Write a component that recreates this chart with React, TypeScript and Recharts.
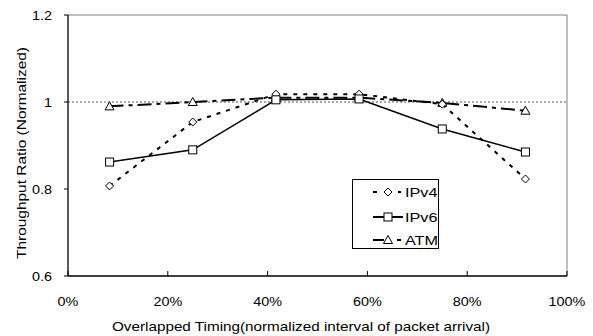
import React from "react";
import {
  LineChart,
  Line,
  XAxis,
  YAxis,
  ReferenceLine,
  Legend,
} from "recharts";

// ---- data ----
const xPositions = [8.33, 25, 41.67, 58.33, 75, 91.67];
const ipv4 = [0.807, 0.954, 1.018, 1.018, 0.995, 0.823];
const ipv6 = [0.862, 0.89, 1.005, 1.007, 0.938, 0.885];
const atm = [0.99, 1.0, 1.01, 1.01, 0.998, 0.98];
const xTicks = [0, 20, 40, 60, 80, 100];
const yTicks = [0.6, 0.8, 1, 1.2];
const seriesNames = ["IPv4", "IPv6", "ATM"];
const xTitle = "Overlapped Timing(normalized interval of packet arrival)";
const yTitle = "Throughput Ratio (Normalized)";

const data = xPositions.map((x, i) => ({
  x,
  IPv4: ipv4[i],
  IPv6: ipv6[i],
  ATM: atm[i],
}));

const FONT = "'Liberation Sans', Arial, sans-serif";

const Diamond = ({ cx, cy }: any) => (
  <path
    d={`M${cx},${cy - 4}L${cx + 4},${cy}L${cx},${cy + 4}L${cx - 4},${cy}Z`}
    fill="#fff"
    stroke="#000"
    strokeWidth={1}
  />
);
const Square = ({ cx, cy }: any) => (
  <rect x={cx - 4} y={cy - 4} width={8} height={8} fill="#fff" stroke="#000" strokeWidth={1} />
);
const Triangle = ({ cx, cy }: any) => (
  <path
    d={`M${cx},${cy - 4.5}L${cx + 4.5},${cy + 3.5}L${cx - 4.5},${cy + 3.5}Z`}
    fill="#fff"
    stroke="#000"
    strokeWidth={1}
  />
);

const XTick = ({ x, y, payload }: any) => (
  <g>
    <line x1={x} x2={x} y1={y} y2={y - 5} stroke="#000" strokeWidth={1} />
    <text
      transform={`translate(${x},${y + 30}) scale(1.2,1)`}
      textAnchor="middle"
      fontSize={12}
      fontFamily={FONT}
      fill="#000"
    >
      {`${payload.value}%`}
    </text>
  </g>
);

const YTick = ({ x, y, payload }: any) => (
  <text
    transform={`translate(${x},${y + 4.5}) scale(1.2,1)`}
    textAnchor="end"
    fontSize={12}
    fontFamily={FONT}
    fill="#000"
  >
    {String(payload.value)}
  </text>
);

const XTitle = () => (
  <text
    x={301}
    y={331}
    textAnchor="middle"
    fontSize={13.5}
    fontFamily={FONT}
    fill="#000"
    textLength={378}
    lengthAdjust="spacingAndGlyphs"
  >
    {xTitle}
  </text>
);

const YTitle = () => (
  <text
    transform="translate(26,153) rotate(-90)"
    x={0}
    y={0}
    textAnchor="middle"
    fontSize={13.5}
    fontFamily={FONT}
    fill="#000"
    textLength={212}
    lengthAdjust="spacingAndGlyphs"
  >
    {yTitle}
  </text>
);

const LegendBox = () => {
  const rows = [13, 38, 61];
  return (
    <svg width={87} height={70} style={{ display: "block" }}>
      <rect x={0.5} y={0.5} width={86} height={69} fill="#fff" stroke="#000" strokeWidth={1} />
      {/* IPv4 */}
      <line x1={21} x2={25} y1={rows[0]} y2={rows[0]} stroke="#000" strokeWidth={2} />
      <line x1={46} x2={49} y1={rows[0]} y2={rows[0]} stroke="#000" strokeWidth={2} />
      <Diamond cx={36} cy={rows[0]} />
      {/* IPv6 */}
      <line x1={21} x2={51} y1={rows[1]} y2={rows[1]} stroke="#000" strokeWidth={2} />
      <Square cx={36} cy={rows[1]} />
      {/* ATM */}
      <line x1={21} x2={32} y1={rows[2]} y2={rows[2]} stroke="#000" strokeWidth={2} />
      <line x1={45} x2={49} y1={rows[2]} y2={rows[2]} stroke="#000" strokeWidth={2} />
      <Triangle cx={36} cy={rows[2]} />
      {seriesNames.map((n, i) => (
        <text
          key={n}
          transform={`translate(53,${rows[i] + 4.5}) scale(1.3,1)`}
          fontSize={12.5}
          fontFamily={FONT}
          fill="#000"
        >
          {n}
        </text>
      ))}
    </svg>
  );
};

export default function App() {
  return (
    <div
      style={{
        position: "absolute",
        left: 0,
        top: 0,
        width: 593,
        height: 336,
        background: "#fff",
      }}
    >
      <LineChart
        width={593}
        height={336}
        data={data}
        margin={{ top: 15, right: 26, bottom: 30, left: 0 }}
      >
        <XAxis
          dataKey="x"
          type="number"
          domain={[0, 100]}
          ticks={xTicks}
          tick={<XTick />}
          tickLine={false}
          tickSize={0}
          tickMargin={0}
          height={30}
          axisLine={{ stroke: "#000", strokeWidth: 1.3 }}
          label={<XTitle />}
          interval={0}
        />
        <YAxis
          type="number"
          domain={[0.6, 1.2]}
          ticks={yTicks}
          tick={<YTick />}
          tickSize={4}
          tickMargin={12}
          width={68}
          axisLine={{ stroke: "#000", strokeWidth: 1.3 }}
          tickLine={{ stroke: "#000" }}
          label={<YTitle />}
          interval={0}
          allowDataOverflow
        />
        <ReferenceLine y={1.2} stroke="#808080" strokeWidth={1} />
        <ReferenceLine x={100} stroke="#808080" strokeWidth={1} />
        <ReferenceLine y={1} stroke="#555" strokeWidth={1} strokeDasharray="2 2" />
        <Legend
          layout="vertical"
          align="center"
          verticalAlign="middle"
          content={<LegendBox />}
          wrapperStyle={{ position: "absolute", left: 352, top: 179, width: 87, height: 70 }}
        />
        <Line
          dataKey="ATM"
          type="linear"
          stroke="#000"
          strokeWidth={2}
          strokeDasharray="14 5 4 5"
          dot={(p: any) => <Triangle key={`t-${p.index}`} cx={p.cx} cy={p.cy} />}
          isAnimationActive={false}
        />
        <Line
          dataKey="IPv4"
          type="linear"
          stroke="#000"
          strokeWidth={2}
          strokeDasharray="4 6"
          dot={(p: any) => <Diamond key={`d-${p.index}`} cx={p.cx} cy={p.cy} />}
          isAnimationActive={false}
        />
        <Line
          dataKey="IPv6"
          type="linear"
          stroke="#000"
          strokeWidth={1.5}
          dot={(p: any) => <Square key={`s-${p.index}`} cx={p.cx} cy={p.cy} />}
          isAnimationActive={false}
        />
      </LineChart>
    </div>
  );
}
